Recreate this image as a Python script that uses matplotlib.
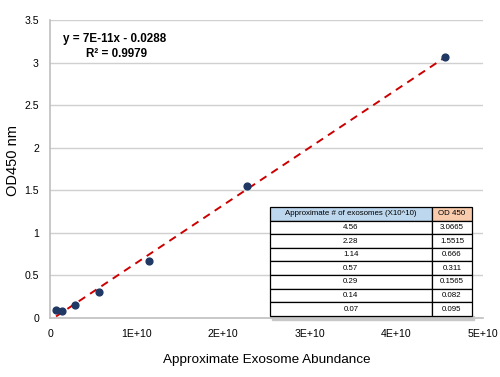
import numpy as np
import matplotlib.pyplot as plt
from matplotlib.patches import Rectangle

plt.rcParams['font.family'] = ['Liberation Sans', 'DejaVu Sans']

# datos (numero de exosomas x1E10 y OD 450)
exo_x10 = [4.56, 2.28, 1.14, 0.57, 0.29, 0.14, 0.07]
od450 = [3.0665, 1.5515, 0.666, 0.311, 0.1565, 0.082, 0.095]
exo_txt = ['4.56', '2.28', '1.14', '0.57', '0.29', '0.14', '0.07']
od_txt = ['3.0665', '1.5515', '0.666', '0.311', '0.1565', '0.082', '0.095']
xticks = [0, 1e10, 2e10, 3e10, 4e10, 5e10]
xtick_labels = ['0', '1E+10', '2E+10', '3E+10', '4E+10', '5E+10']
yticks = [0, 0.5, 1, 1.5, 2, 2.5, 3, 3.5]

x = np.array(exo_x10) * 1e10
y = np.array(od450)

fig = plt.figure(figsize=(5, 3.77), dpi=100)
ax = fig.add_axes([0.1, 0.1565, 0.866, 0.7905])

# linea de tendencia
m, b = np.polyfit(x, y, 1)
xl = np.array([x.min(), x.max()])
ax.plot(xl, m * xl + b, color='#CC0000', lw=1.4, ls=(0, (4, 3)), zorder=3)
ax.scatter(x, y, s=24, color='#1F3864', zorder=4)

ax.set_xlim(0, 5e10)
ax.set_ylim(0, 3.5)
ax.set_xticks(xticks)
ax.set_xticklabels(xtick_labels)
ax.set_yticks(yticks)
ax.set_yticklabels(['0', '0.5', '1', '1.5', '2', '2.5', '3', '3.5'])
ax.tick_params(length=0, labelsize=7.6, pad=8)
ax.grid(axis='y', color='#D0D0D0', lw=1)
ax.set_axisbelow(True)
for s in ['top', 'right']:
    ax.spines[s].set_visible(False)
for s in ['left', 'bottom']:
    ax.spines[s].set_color('#BFBFBF')
    ax.spines[s].set_linewidth(1.2)

ax.set_xlabel('Approximate Exosome Abundance', fontsize=9.7)
ax.set_ylabel('OD450 nm', fontsize=10.5)
ax.xaxis.set_label_coords(0.5, -0.12, transform=ax.transAxes)
ax.yaxis.set_label_coords(-0.07, 0.527, transform=ax.transAxes)

ax.text(0.03, 0.955, 'y = 7E-11x - 0.0288', transform=ax.transAxes,
        fontsize=8.4, fontweight='bold', va='top')
ax.text(0.083, 0.907, 'R\u00b2 = 0.9979', transform=ax.transAxes,
        fontsize=8.4, fontweight='bold', va='top')

# tabla
cells = [['Approximate # of exosomes (X10^10)', 'OD 450']]
cells += [[a, c] for a, c in zip(exo_txt, od_txt)]
bbox = [0.508, 0.0067, 0.467, 0.366]
ax.add_patch(Rectangle((bbox[0] + 0.005, bbox[1] - 0.012), bbox[2], 0.012,
                       transform=ax.transAxes, color='#C8C8C8', zorder=4,
                       clip_on=False))
tab = ax.table(cellText=cells, bbox=bbox, colWidths=[0.8, 0.2],
               cellLoc='center', zorder=5)
tab.auto_set_font_size(False)
tab.set_fontsize(5.7)
for (r, c), cell in tab.get_celld().items():
    cell.set_linewidth(0.9)
    cell.set_edgecolor('black')
    if r == 0:
        cell.set_facecolor('#BDD7EE' if c == 0 else '#F8CBAD')
    else:
        cell.set_facecolor('white')

fig.savefig('out.png', dpi=100)
